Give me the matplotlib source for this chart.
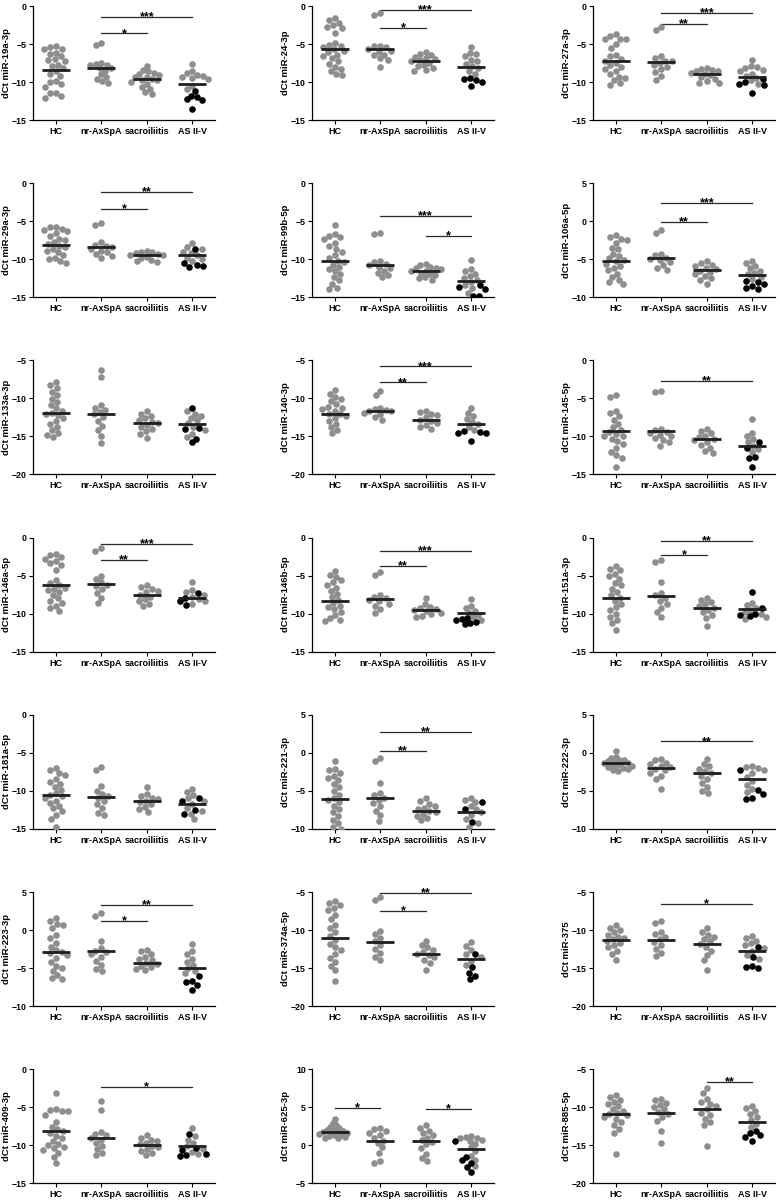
import numpy as np
import matplotlib
matplotlib.use('Agg')
from matplotlib import pyplot as plt

plt.rcParams['font.family'] = ['Liberation Sans', 'DejaVu Sans']
plt.rcParams['font.weight'] = 'bold'

groups = ['HC', 'nr-AxSpA', 'sacroiliitis', 'AS II-V']

# each panel: [HC, nr-AxSpA, sacroiliitis, AS II-V (grey)], black AS points, mean lines
m19a_3p = [
    [-5.3, -5.4, -5.6, -5.7, -6.2, -6.3, -6.6, -7.0, -7.1, -7.2, -7.7, -7.9, -8.1, -8.6, -8.9, -9.2, -9.9, -10.0, -10.3, -10.6, -11.4, -11.5, -11.9, -12.1],
    [-4.9, -5.1, -7.5, -7.6, -7.7, -7.8, -8.1, -8.2, -8.5, -9.0, -9.3, -9.6, -9.9, -10.1],
    [-7.9, -8.4, -8.6, -8.8, -9.0, -9.1, -9.3, -9.4, -9.6, -9.7, -9.8, -10.0, -10.3, -10.6, -10.9, -11.3, -11.6],
    [-7.6, -8.6, -8.8, -9.1, -9.2, -9.3, -9.5, -9.6, -10.5, -10.9],
]
m19a_3p_black = [-11.2, -11.8, -12.0, -12.3, -12.4, -13.6]
m19a_3p_mean = [-8.4, -8.1, -9.6, -10.3]

m24_3p = [
    [-1.6, -1.8, -2.2, -2.5, -2.7, -2.9, -3.6, -4.9, -5.1, -5.2, -5.4, -5.7, -5.9, -6.1, -6.4, -6.6, -6.9, -7.2, -7.6, -8.0, -8.3, -8.6, -8.9, -9.1],
    [-0.9, -1.2, -5.2, -5.3, -5.4, -5.6, -5.9, -6.0, -6.4, -6.5, -6.9, -7.1, -8.0],
    [-6.1, -6.3, -6.5, -6.7, -6.9, -7.0, -7.1, -7.3, -7.5, -7.7, -7.9, -8.1, -8.4, -8.5],
    [-5.4, -6.2, -6.3, -6.6, -7.1, -7.3, -7.6, -7.9, -8.2, -8.6, -9.0],
]
m24_3p_black = [-9.5, -9.6, -9.8, -10.0, -10.5]
m24_3p_mean = [-5.7, -5.6, -7.2, -8.0]

m27a_3p = [
    [-3.7, -3.9, -4.3, -4.4, -4.4, -5.0, -5.5, -6.5, -6.6, -7.0, -7.2, -7.5, -7.8, -8.0, -8.3, -8.6, -9.0, -9.3, -9.5, -9.8, -10.1, -10.4],
    [-2.8, -3.2, -6.6, -6.9, -7.2, -7.3, -7.5, -7.7, -8.0, -8.3, -8.7, -9.2, -9.7],
    [-8.2, -8.3, -8.4, -8.5, -8.6, -8.8, -8.9, -9.1, -9.4, -9.6, -9.9, -10.1, -10.1],
    [-7.1, -7.9, -8.0, -8.2, -8.4, -8.6, -8.9, -9.2, -9.5, -9.8, -10.3],
]
m27a_3p_black = [-9.6, -10.0, -10.2, -10.4, -11.4]
m27a_3p_mean = [-7.3, -7.4, -8.9, -9.3]

m29a_3p = [
    [-5.7, -5.8, -6.0, -6.1, -6.3, -6.6, -7.0, -7.3, -7.5, -7.8, -8.0, -8.2, -8.4, -8.6, -8.9, -9.1, -9.4, -9.8, -10.0, -10.2, -10.5],
    [-5.2, -5.5, -7.8, -8.1, -8.3, -8.4, -8.6, -8.9, -9.1, -9.3, -9.6, -9.9],
    [-8.9, -9.0, -9.1, -9.2, -9.3, -9.4, -9.5, -9.7, -9.9, -10.1, -10.3, -10.4],
    [-7.9, -8.4, -8.7, -9.0, -9.2, -9.5, -9.8, -10.0, -10.3],
]
m29a_3p_black = [-8.6, -10.5, -10.8, -10.9, -11.0]
m29a_3p_mean = [-8.1, -8.4, -9.4, -9.5]

m99b_5p = [
    [-5.5, -6.7, -6.9, -7.1, -7.4, -7.9, -8.3, -8.7, -9.0, -9.5, -9.9, -10.2, -10.4, -10.7, -11.0, -11.3, -11.6, -12.0, -12.4, -12.8, -13.2, -13.8, -13.9],
    [-6.6, -6.7, -10.2, -10.4, -10.6, -10.8, -11.0, -11.2, -11.5, -11.8, -12.1, -12.4],
    [-10.6, -10.8, -11.0, -11.1, -11.2, -11.3, -11.5, -11.6, -11.8, -12.0, -12.1, -12.3, -12.5, -12.7],
    [-10.1, -11.3, -11.6, -11.9, -12.2, -12.5, -12.7, -13.0, -13.4, -13.8, -14.4],
]
m99b_5p_black = [-13.4, -13.6, -13.9, -14.8, -14.9]
m99b_5p_mean = [-10.2, -10.7, -11.6, -12.9]

m106a_5p = [
    [-1.8, -2.1, -2.3, -2.5, -2.9, -3.5, -3.7, -4.3, -4.6, -4.9, -5.1, -5.3, -5.6, -5.9, -6.2, -6.4, -6.9, -7.3, -7.7, -8.0, -8.2],
    [-1.2, -1.6, -4.3, -4.5, -4.8, -5.0, -5.1, -5.4, -5.8, -6.1, -6.4],
    [-5.3, -5.5, -5.7, -5.9, -6.1, -6.3, -6.5, -6.7, -6.9, -7.2, -7.5, -7.7, -8.2],
    [-5.2, -5.5, -5.9, -6.2, -6.5, -6.8, -7.0, -7.3, -7.6],
]
m106a_5p_black = [-7.9, -8.0, -8.2, -8.5, -8.8, -8.9]
m106a_5p_mean = [-5.3, -4.9, -6.4, -7.1]

m133a_3p = [
    [-7.8, -8.2, -8.6, -9.1, -9.6, -10.1, -10.5, -10.9, -11.3, -11.6, -11.9, -12.0, -12.2, -12.6, -13.0, -13.4, -13.8, -14.2, -14.6, -14.8, -15.1],
    [-6.2, -7.2, -10.9, -11.2, -11.5, -11.8, -12.1, -12.5, -13.0, -13.6, -14.2, -15.0, -15.9],
    [-11.7, -12.0, -12.3, -12.6, -12.9, -13.1, -13.3, -13.5, -13.7, -14.0, -14.3, -14.7, -15.2],
    [-11.7, -12.0, -12.3, -12.6, -12.9, -13.3, -13.7, -14.2, -14.7, -15.1],
]
m133a_3p_black = [-11.3, -13.9, -14.0, -15.3, -15.8]
m133a_3p_mean = [-11.9, -12.1, -13.3, -13.4]

m140_3p = [
    [-8.9, -9.4, -9.8, -10.1, -10.4, -10.8, -11.1, -11.2, -11.4, -11.7, -12.0, -12.1, -12.3, -12.6, -13.0, -13.4, -13.8, -14.2, -14.6],
    [-9.0, -9.5, -11.3, -11.4, -11.5, -11.6, -11.7, -11.9, -12.1, -12.4, -12.8],
    [-11.6, -11.8, -12.0, -12.2, -12.5, -12.8, -13.0, -13.2, -13.5, -13.8, -14.0],
    [-11.2, -11.9, -12.3, -12.7, -13.1, -13.4, -13.8, -14.2],
]
m140_3p_black = [-14.3, -14.4, -14.5, -14.6, -15.6]
m140_3p_mean = [-12.0, -11.6, -12.8, -13.4]

m145_5p = [
    [-4.6, -4.8, -6.6, -6.9, -7.3, -7.8, -8.4, -8.8, -9.1, -9.4, -9.7, -9.9, -10.0, -10.3, -10.6, -11.0, -11.5, -12.0, -12.4, -12.8, -14.0],
    [-4.0, -4.2, -9.0, -9.2, -9.4, -9.6, -9.8, -10.0, -10.2, -10.5, -10.8, -11.2],
    [-9.0, -9.3, -9.6, -9.9, -10.1, -10.3, -10.5, -10.8, -11.1, -11.5, -11.9, -12.2],
    [-7.7, -9.5, -9.9, -10.3, -10.7, -11.2, -11.6, -12.0],
]
m145_5p_black = [-10.7, -11.5, -12.7, -12.8, -14.0]
m145_5p_mean = [-9.3, -9.3, -10.4, -11.2]

m146a_5p = [
    [-2.1, -2.3, -2.6, -2.8, -3.1, -3.4, -3.6, -4.2, -5.6, -6.0, -6.3, -6.6, -6.8, -6.9, -7.2, -7.6, -8.0, -8.3, -8.6, -9.0, -9.3, -9.7],
    [-1.4, -1.7, -5.0, -5.4, -5.9, -6.2, -6.4, -6.8, -7.3, -7.9, -8.6],
    [-6.3, -6.5, -6.8, -7.0, -7.2, -7.5, -7.8, -8.1, -8.4, -8.7, -9.0],
    [-5.8, -6.9, -7.2, -7.5, -7.8, -8.1, -8.4, -8.7],
]
m146a_5p_black = [-7.3, -8.0, -8.4, -8.9]
m146a_5p_mean = [-6.2, -6.1, -7.5, -7.9]

m146b_5p = [
    [-4.4, -4.9, -5.2, -5.6, -5.9, -6.2, -6.6, -7.0, -7.4, -7.8, -8.2, -8.6, -9.0, -9.1, -9.4, -9.8, -10.2, -10.6, -10.8, -11.0],
    [-4.5, -4.9, -7.6, -7.8, -8.0, -8.2, -8.4, -8.7, -9.0, -9.4, -9.9],
    [-8.0, -8.8, -9.1, -9.3, -9.4, -9.5, -9.7, -9.9, -10.1, -10.3, -10.5],
    [-8.1, -9.0, -9.3, -9.6, -9.9, -10.2, -10.5, -10.8],
]
m146b_5p_black = [-10.6, -10.7, -10.9, -11.1, -11.3, -11.4]
m146b_5p_mean = [-8.3, -8.1, -9.5, -9.9]

m151a_3p = [
    [-3.7, -4.1, -4.3, -4.8, -5.0, -5.4, -6.0, -6.3, -6.7, -7.2, -7.6, -7.9, -8.3, -8.7, -9.1, -9.5, -10.0, -10.4, -10.8, -11.3, -12.2],
    [-2.9, -3.2, -5.9, -7.3, -7.6, -7.9, -8.3, -8.7, -9.2, -9.8, -10.5],
    [-7.9, -8.2, -8.5, -8.8, -9.0, -9.2, -9.5, -9.8, -10.2, -10.6, -11.6],
    [-8.6, -8.9, -9.2, -9.5, -9.8, -10.1, -10.4, -10.7],
]
m151a_3p_black = [-7.2, -9.2, -10.0, -10.2, -10.3]
m151a_3p_mean = [-8.0, -7.7, -9.2, -9.4]

m181a_5p = [
    [-7.0, -7.3, -7.7, -7.9, -8.5, -8.8, -9.1, -9.5, -9.9, -10.3, -10.5, -10.7, -11.0, -11.3, -11.6, -12.0, -12.3, -12.7, -13.2, -13.7, -14.8],
    [-6.9, -7.3, -9.4, -10.0, -10.4, -10.7, -11.0, -11.4, -11.8, -12.3, -12.9, -13.2],
    [-9.5, -10.4, -10.7, -10.9, -11.1, -11.3, -11.5, -11.8, -12.1, -12.4, -12.8],
    [-9.8, -10.2, -10.6, -11.0, -11.4, -11.8, -12.2, -12.6, -13.0, -13.7],
]
m181a_5p_black = [-10.9, -11.3, -12.5, -13.0]
m181a_5p_mean = [-10.6, -10.8, -11.3, -11.7]

m221_3p = [
    [-1.1, -2.1, -2.3, -2.6, -3.0, -3.3, -3.6, -4.1, -4.5, -5.0, -5.5, -6.0, -6.2, -6.5, -7.0, -7.4, -7.8, -8.3, -8.8, -9.3, -9.8, -10.0],
    [-0.7, -1.1, -4.0, -5.3, -5.6, -5.9, -6.2, -6.6, -7.0, -7.6, -8.2, -9.0],
    [-6.0, -6.4, -6.7, -7.0, -7.2, -7.4, -7.6, -7.8, -8.0, -8.3, -8.6, -8.9],
    [-5.9, -6.2, -6.5, -7.0, -7.4, -7.8, -8.2, -8.7, -9.2, -9.8],
]
m221_3p_black = [-6.5, -7.4, -9.1]
m221_3p_mean = [-6.1, -5.9, -7.6, -7.8]

m222_3p = [
    [0.3, -0.5, -0.7, -0.9, -1.0, -1.1, -1.2, -1.3, -1.4, -1.5, -1.6, -1.7, -1.8, -1.9, -2.0, -2.1, -2.2, -2.4],
    [-0.8, -1.0, -1.3, -1.5, -1.7, -1.9, -2.1, -2.3, -2.6, -3.0, -3.4, -4.7],
    [-0.8, -1.5, -1.8, -2.1, -2.4, -2.7, -3.0, -3.5, -4.0, -4.5, -5.0, -5.3],
    [-1.7, -1.9, -2.0, -2.3, -2.7, -3.2, -3.7, -4.2, -4.8, -5.2],
]
m222_3p_black = [-2.2, -4.9, -5.4, -5.9, -6.1]
m222_3p_mean = [-1.4, -2.0, -2.6, -3.4]

m223_3p = [
    [1.6, 1.2, 0.8, 0.6, 0.3, -0.6, -1.0, -1.7, -2.2, -2.6, -2.9, -3.0, -3.3, -3.7, -4.2, -4.7, -5.0, -5.4, -5.9, -6.3, -6.5],
    [2.2, 1.9, -1.5, -2.4, -2.7, -2.9, -3.2, -3.6, -4.1, -4.6, -5.1, -5.4],
    [-2.6, -2.8, -3.2, -3.5, -3.8, -4.0, -4.3, -4.5, -4.7, -4.9, -5.1, -5.3],
    [-1.9, -2.8, -3.2, -3.8, -4.2, -4.6, -5.0, -5.4, -5.7],
]
m223_3p_black = [-6.0, -6.7, -6.8, -7.2, -7.9]
m223_3p_mean = [-2.9, -2.8, -4.3, -5.0]

m374a_5p = [
    [-6.2, -6.4, -6.7, -7.1, -7.4, -8.0, -8.6, -9.3, -9.8, -10.3, -10.8, -11.3, -11.8, -12.2, -12.6, -13.2, -13.7, -14.2, -14.8, -15.3, -16.7],
    [-5.6, -6.1, -10.1, -10.5, -11.0, -11.5, -12.0, -12.5, -13.0, -13.5, -14.0],
    [-11.4, -12.0, -12.3, -12.6, -12.9, -13.1, -13.3, -13.6, -13.9, -14.3, -15.2],
    [-11.6, -12.1, -12.6, -13.1, -13.6, -14.1, -14.6],
]
m374a_5p_black = [-13.2, -14.9, -15.6, -16.0, -16.5]
m374a_5p_mean = [-11.0, -11.6, -13.1, -13.8]

m375 = [
    [-9.4, -9.7, -10.0, -10.3, -10.6, -10.9, -11.1, -11.2, -11.4, -11.7, -12.0, -12.3, -12.7, -13.2, -13.9],
    [-8.8, -9.1, -10.3, -10.5, -10.9, -11.2, -11.6, -12.0, -12.5, -13.0, -13.4],
    [-9.8, -10.3, -10.6, -10.9, -11.2, -11.5, -11.8, -12.2, -12.7, -13.3, -14.0, -15.2],
    [-10.8, -11.1, -11.4, -11.7, -12.0, -12.4, -12.8, -13.3, -13.8],
]
m375_black = [-12.2, -13.6, -14.8, -14.9, -15.0]
m375_mean = [-11.3, -11.3, -11.8, -12.7]

m409_3p = [
    [-3.1, -5.3, -5.4, -5.5, -5.5, -6.0, -7.0, -7.6, -7.9, -8.1, -8.4, -8.8, -9.1, -9.5, -9.8, -10.0, -10.2, -10.4, -10.6, -11.0, -11.6, -12.4],
    [-4.2, -5.4, -8.2, -8.5, -8.7, -9.0, -9.3, -9.7, -10.1, -10.5, -11.0, -11.3],
    [-8.7, -9.1, -9.3, -9.5, -9.7, -9.9, -10.1, -10.3, -10.5, -10.7, -11.0, -11.3],
    [-7.8, -8.8, -9.3, -9.7, -10.1, -10.5, -10.9, -11.2],
]
m409_3p_black = [-8.5, -10.4, -10.6, -11.2, -11.3, -11.4]
m409_3p_mean = [-8.1, -9.0, -10.0, -10.1]

m625_3p = [
    [3.4, 2.9, 2.6, 2.4, 2.2, 2.1, 2.0, 1.9, 1.8, 1.7, 1.7, 1.6, 1.5, 1.4, 1.3, 1.2, 1.1, 1.0, 0.9],
    [2.3, 2.1, 1.9, 1.6, 1.3, 1.0, 0.6, 0.3, -0.3, -1.0, -2.1, -2.4],
    [2.6, 2.3, 1.9, 1.6, 1.3, 1.0, 0.7, 0.4, 0.1, -0.4, -1.1, -1.7, -2.1],
    [1.2, 1.1, 1.0, 0.9, 0.7, 0.5, 0.2, -0.3, -0.8, -1.4, -1.9, -2.7],
]
m625_3p_black = [0.6, -1.5, -2.0, -2.3, -2.9, -3.5]
m625_3p_mean = [1.8, 0.6, 0.6, -0.5]

m885_5p = [
    [-8.4, -8.7, -9.0, -9.3, -9.6, -9.9, -10.2, -10.5, -10.8, -10.9, -11.0, -11.3, -11.6, -12.0, -12.4, -12.9, -13.4, -16.1],
    [-8.9, -9.1, -9.4, -9.7, -10.0, -10.3, -10.6, -10.9, -11.3, -11.8, -13.1, -14.7],
    [-7.5, -8.1, -8.9, -9.3, -9.6, -9.9, -10.3, -10.7, -11.0, -11.5, -12.0, -12.3, -15.1],
    [-9.8, -10.1, -10.5, -10.9, -11.3, -11.7, -12.2, -12.6],
]
m885_5p_black = [-13.1, -13.4, -13.7, -13.9, -14.5]
m885_5p_mean = [-10.9, -10.7, -10.3, -12.0]

# label, data, black points, means, y max, significance bars (from, to, y, stars)
panels = [
    ('miR-19a-3p', m19a_3p, m19a_3p_black, m19a_3p_mean, 0, [(1, 2, -3.6, '*'), (1, 3, -1.4, '***')]),
    ('miR-24-3p', m24_3p, m24_3p_black, m24_3p_mean, 0, [(1, 2, -2.9, '*'), (1, 3, -0.5, '***')]),
    ('miR-27a-3p', m27a_3p, m27a_3p_black, m27a_3p_mean, 0, [(1, 2, -2.4, '**'), (1, 3, -0.9, '***')]),
    ('miR-29a-3p', m29a_3p, m29a_3p_black, m29a_3p_mean, 0, [(1, 2, -3.4, '*'), (1, 3, -1.2, '**')]),
    ('miR-99b-5p', m99b_5p, m99b_5p_black, m99b_5p_mean, 0, [(1, 3, -4.3, '***'), (2, 3, -6.9, '*')]),
    ('miR-106a-5p', m106a_5p, m106a_5p_black, m106a_5p_mean, 5, [(1, 2, -0.1, '**'), (1, 3, 2.4, '***')]),
    ('miR-133a-3p', m133a_3p, m133a_3p_black, m133a_3p_mean, -5, []),
    ('miR-140-3p', m140_3p, m140_3p_black, m140_3p_mean, -5, [(1, 2, -7.9, '**'), (1, 3, -5.8, '***')]),
    ('miR-145-5p', m145_5p, m145_5p_black, m145_5p_mean, 0, [(1, 3, -2.7, '**')]),
    ('miR-146a-5p', m146a_5p, m146a_5p_black, m146a_5p_mean, 0, [(1, 2, -2.9, '**'), (1, 3, -0.8, '***')]),
    ('miR-146b-5p', m146b_5p, m146b_5p_black, m146b_5p_mean, 0, [(1, 2, -3.7, '**'), (1, 3, -1.7, '***')]),
    ('miR-151a-3p', m151a_3p, m151a_3p_black, m151a_3p_mean, 0, [(1, 2, -2.3, '*'), (1, 3, -0.4, '**')]),
    ('miR-181a-5p', m181a_5p, m181a_5p_black, m181a_5p_mean, 0, []),
    ('miR-221-3p', m221_3p, m221_3p_black, m221_3p_mean, 5, [(1, 2, 0.3, '**'), (1, 3, 2.7, '**')]),
    ('miR-222-3p', m222_3p, m222_3p_black, m222_3p_mean, 5, [(1, 3, 1.5, '**')]),
    ('miR-223-3p', m223_3p, m223_3p_black, m223_3p_mean, 5, [(1, 2, 1.2, '*'), (1, 3, 3.3, '**')]),
    ('miR-374a-5p', m374a_5p, m374a_5p_black, m374a_5p_mean, -5, [(1, 2, -7.5, '*'), (1, 3, -5.1, '**')]),
    ('miR-375', m375, m375_black, m375_mean, -5, [(1, 3, -6.6, '*')]),
    ('miR-409-3p', m409_3p, m409_3p_black, m409_3p_mean, 0, [(1, 3, -2.3, '*')]),
    ('miR-625-3p', m625_3p, m625_3p_black, m625_3p_mean, 10, [(0, 1, 4.9, '*'), (2, 3, 4.8, '*')]),
    ('miR-885-5p', m885_5p, m885_5p_black, m885_5p_mean, -5, [(2, 3, -6.7, '**')]),
]

W, H = 780, 1200
col_left = [33, 312, 593]
ax_w, ax_h = 182, 114
row_top0, row_step = 6, 177.2
dot = 6.6       # marker diameter in px
spread = 6.2    # collision distance for the swarm
max_off = 0.36  # widest a swarm may get, in group units
grey = '#8e8e8e'


def swarm(values, ppu_x, ppu_y, d):
    """ Simple beeswarm: returns x offsets (data units) so dots don't overlap. """
    values = np.asarray(values, dtype=float)
    order = np.argsort(-values)
    placed = []
    xs = np.zeros(len(values))
    for i in order:
        y = values[i] * ppu_y
        bad = []
        for px, py in placed:
            dy = abs(y - py)
            if dy < d:
                dx = np.sqrt(d * d - dy * dy)
                bad.append((px - dx, px + dx))
        cands = [0.0] + [b[0] for b in bad] + [b[1] for b in bad]
        cands.sort(key=abs)
        for c in cands:
            if all(not (lo + 1e-6 < c < hi - 1e-6) for lo, hi in bad):
                break
        placed.append((c, y))
        xs[i] = c / ppu_x
    return xs


def fit_swarm(values, ppu_x, ppu_y):
    """ Shrink the collision distance until the swarm fits the group width. """
    d = spread
    xs = swarm(values, ppu_x, ppu_y, d)
    while np.abs(xs).max() > max_off and d > 3:
        d -= 0.3
        xs = swarm(values, ppu_x, ppu_y, d)
    return xs


fig = plt.figure(figsize=(W / 100, H / 100), dpi=100)

for k, (name, data, black, means, ymax, sig) in enumerate(panels):
    r, c = divmod(k, 3)
    top = row_top0 + r * row_step
    ax = fig.add_axes([col_left[c] / W, 1 - (top + ax_h) / H, ax_w / W, ax_h / H])
    ymin = ymax - 15
    ppu_x = ax_w / 4.0
    ppu_y = ax_h / 15.0

    for g in range(4):
        vals = list(data[g])
        cols = [grey] * len(vals)
        if g == 3:
            vals = vals + list(black)
            cols = cols + ['black'] * len(black)
        offs = fit_swarm(vals, ppu_x, ppu_y)
        for v, o, col in zip(vals, offs, cols):
            ax.plot(g + o, v, 'o', ms=dot * 0.72, mew=0, color=col, zorder=3)
        ax.plot([g - 0.31, g + 0.31], [means[g], means[g]], color='#1e1e1e', lw=2.0,
                solid_capstyle='butt', zorder=4)

    for a, b, y, stars in sig:
        ax.plot([a, b], [y, y], color='#2a2a2a', lw=0.9, zorder=2, clip_on=False)
        ax.annotate(stars, ((a + b) / 2, y), xytext=(0, -2.4), textcoords='offset points',
                    ha='center', va='baseline', fontsize=9, fontweight='bold')

    ax.set_xlim(-0.5, 3.5)
    ax.set_ylim(ymin, ymax)
    ax.set_yticks(np.arange(ymin, ymax + 1, 5))
    ax.set_xticks(range(4))
    ax.set_xticklabels(groups, fontsize=6.5, fontweight='bold')
    ax.tick_params(axis='y', labelsize=6.3, length=3, width=0.8, pad=1.5)
    ax.tick_params(axis='x', length=3, width=0.8, pad=2)
    for t in ax.get_yticklabels():
        t.set_fontweight('bold')
    ax.set_ylabel('dCt ' + name, fontsize=6.8, fontweight='bold')
    ax.yaxis.set_label_coords(-22 / ax_w, 0.5)
    for s in ['top', 'right']:
        ax.spines[s].set_visible(False)
    for s in ['left', 'bottom']:
        ax.spines[s].set_linewidth(0.9)

fig.savefig('out.png', dpi=100)
